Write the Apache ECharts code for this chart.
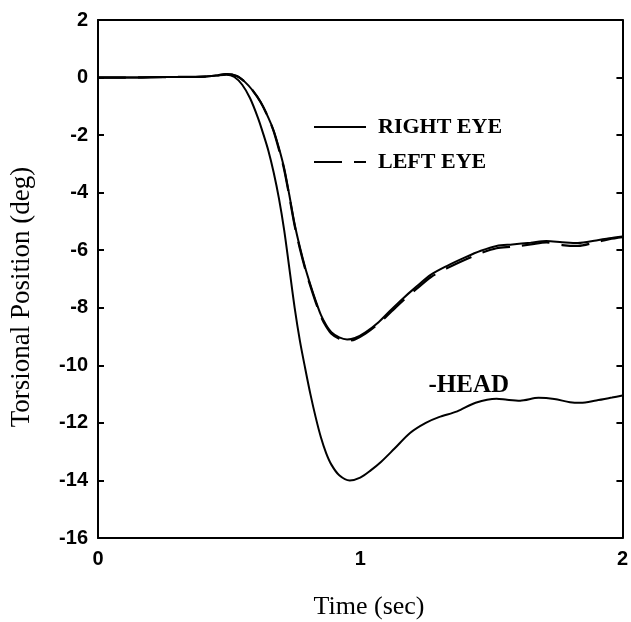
<!DOCTYPE html>
<html>
<head>
<meta charset="utf-8">
<script src="https://cdn.jsdelivr.net/npm/echarts@6/dist/echarts.min.js"></script>
<style>
  html, body { margin: 0; padding: 0; background: #fff; }
  #chart { width: 631px; height: 622px; }
</style>
</head>
<body>
<div id="chart"></div>
<script>
// time (sec) and torsional position (deg)
const eyeTime = [0, 0.1, 0.2, 0.3, 0.4, 0.45, 0.49, 0.53, 0.56, 0.59, 0.62, 0.65, 0.67, 0.69, 0.71, 0.73, 0.75, 0.77, 0.79, 0.81, 0.83, 0.85, 0.87, 0.89, 0.92, 0.95, 0.98, 1.02, 1.07, 1.12, 1.16, 1.21, 1.27, 1.33, 1.4, 1.46, 1.52, 1.58, 1.65, 1.71, 1.77, 1.83, 1.9, 1.95, 2.0]
const rightEye = [0, 0, 0.01, 0.02, 0.03, 0.07, 0.12, 0.05, -0.15, -0.45, -0.85, -1.4, -1.85, -2.45, -3.15, -4.1, -5.1, -5.9, -6.6, -7.2, -7.75, -8.25, -8.6, -8.85, -9.03, -9.1, -9.05, -8.85, -8.5, -8.05, -7.7, -7.3, -6.85, -6.55, -6.25, -6.02, -5.85, -5.8, -5.74, -5.68, -5.72, -5.75, -5.66, -5.58, -5.52]
const leftEye = [0, 0, 0.01, 0.02, 0.03, 0.07, 0.12, 0.05, -0.15, -0.45, -0.85, -1.4, -1.87, -2.5, -3.2, -4.15, -5.15, -5.95, -6.65, -7.25, -7.8, -8.3, -8.65, -8.9, -9.08, -9.15, -9.1, -8.9, -8.55, -8.12, -7.78, -7.38, -6.93, -6.63, -6.33, -6.1, -5.93, -5.88, -5.8, -5.73, -5.82, -5.85, -5.72, -5.62, -5.55]

const headTime = [0, 0.1, 0.2, 0.3, 0.4, 0.45, 0.49, 0.52, 0.55, 0.58, 0.61, 0.63, 0.65, 0.67, 0.69, 0.71, 0.73, 0.75, 0.77, 0.79, 0.81, 0.83, 0.85, 0.87, 0.89, 0.92, 0.96, 1.0, 1.04, 1.08, 1.13, 1.19, 1.25, 1.3, 1.37, 1.44, 1.52, 1.56, 1.61, 1.68, 1.74, 1.8, 1.84, 1.9, 1.96, 2.0]
const negHead = [0, 0, 0.01, 0.02, 0.03, 0.07, 0.1, 0.02, -0.25, -0.72, -1.4, -1.95, -2.55, -3.3, -4.2, -5.3, -6.65, -8.0, -9.15, -10.1, -11.0, -11.8, -12.5, -13.05, -13.45, -13.82, -14.0, -13.9, -13.65, -13.35, -12.9, -12.35, -12.0, -11.8, -11.6, -11.3, -11.16, -11.2, -11.23, -11.13, -11.17, -11.28, -11.3, -11.22, -11.12, -11.05]

const xTicks = [0, 1, 2]
const headLabel = { text: '-HEAD', t: 1.414, deg: -10.7 }

const chart = echarts.init(document.getElementById('chart'))

function pairs(t, v) {
  return t.map((x, i) => [x, v[i]])
}

const tickFont = { fontFamily: 'Liberation Sans', fontSize: 20, fontWeight: 'bold', color: '#000' }
const serif = 'Liberation Serif'
const frame = { show: true, onZero: false, lineStyle: { color: '#000', width: 2 } }

const option = {
  animation: false,
  backgroundColor: '#fff',
  grid: { left: 98, right: 4, top: 20, bottom: 84 },
  legend: {
    data: ['RIGHT EYE', 'LEFT EYE'],
    orient: 'vertical',
    left: 313,
    top: 116,
    padding: 0,
    itemWidth: 52,
    itemHeight: 14,
    itemGap: 13,
    itemStyle: { color: 'rgba(0,0,0,0)', borderWidth: 0 },
    textStyle: { fontFamily: serif, fontSize: 22, fontWeight: 'bold', color: '#000', padding: [0, 0, 0, 7] }
  },
  xAxis: [
    {
      type: 'value',
      min: 0,
      max: 2,
      interval: 1,
      axisLine: frame,
      axisTick: { show: false },
      splitLine: { show: false },
      axisLabel: Object.assign({ margin: 11, customValues: xTicks }, tickFont)
    },
    {
      type: 'value',
      position: 'top',
      min: 0,
      max: 2,
      axisLine: frame,
      axisTick: { show: false },
      axisLabel: { show: false },
      splitLine: { show: false }
    }
  ],
  yAxis: [
    {
      type: 'value',
      min: -16,
      max: 2,
      interval: 2,
      axisLine: frame,
      axisTick: { show: true, inside: true, length: 6, lineStyle: { color: '#000', width: 2 } },
      splitLine: { show: false },
      axisLabel: Object.assign({ margin: 10 }, tickFont)
    },
    {
      type: 'value',
      position: 'right',
      min: -16,
      max: 2,
      interval: 2,
      axisLine: frame,
      axisTick: { show: true, inside: true, length: 6, lineStyle: { color: '#000', width: 2 } },
      axisLabel: { show: false },
      splitLine: { show: false }
    }
  ],
  series: [
    {
      name: 'RIGHT EYE',
      type: 'line',
      data: pairs(eyeTime, rightEye),
      symbol: 'none',
      smooth: 0.3,
      itemStyle: { color: '#000' },
      lineStyle: { color: '#000', width: 2 }
    },
    {
      name: 'LEFT EYE',
      type: 'line',
      data: pairs(eyeTime, leftEye),
      symbol: 'none',
      smooth: 0.3,
      itemStyle: { color: '#000' },
      lineStyle: { color: '#000', width: 2.2, type: [28, 12] }
    },
    {
      name: '-HEAD',
      type: 'line',
      data: pairs(headTime, negHead),
      symbol: 'none',
      smooth: 0.3,
      itemStyle: { color: '#000' },
      lineStyle: { color: '#000', width: 2 },
      markPoint: {
        symbol: 'circle',
        symbolSize: 0,
        silent: true,
        data: [{ coord: [headLabel.t, headLabel.deg] }],
        label: {
          show: true,
          formatter: headLabel.text,
          position: 'inside',
          fontFamily: serif,
          fontSize: 25,
          fontWeight: 'bold',
          color: '#000'
        }
      }
    }
  ],
  graphic: [
    {
      type: 'text',
      x: 369,
      y: 607,
      style: {
        text: 'Time (sec)',
        fontFamily: serif,
        fontSize: 26,
        fill: '#000',
        align: 'center',
        verticalAlign: 'middle'
      }
    },
    {
      type: 'text',
      x: 22,
      y: 297,
      rotation: Math.PI / 2,
      style: {
        text: 'Torsional Position (deg)',
        fontFamily: serif,
        fontSize: 27,
        fill: '#000',
        align: 'center',
        verticalAlign: 'middle'
      }
    }
  ]
}

chart.setOption(option)
</script>
</body>
</html>
